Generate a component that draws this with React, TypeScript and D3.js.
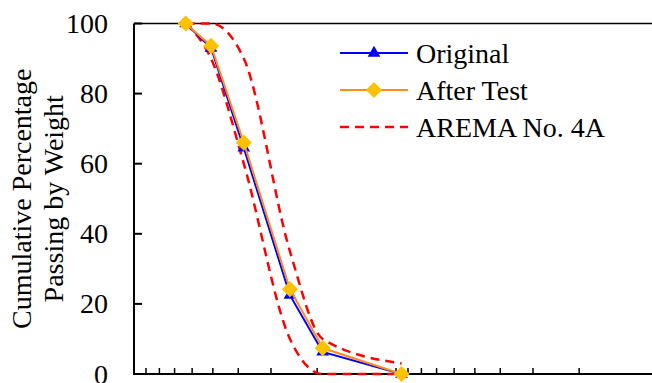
// 级配曲线
import React, { useRef, useEffect } from 'react';
import * as d3 from 'd3';

// 筛孔尺寸 (mm)
const sieveSizes: number[] = [63.5, 50.8, 38.1, 25.4, 19.05, 9.525];
const original: number[] = [100, 93, 64.5, 22.5, 6.3, 0];
const afterTest: number[] = [100, 93.6, 66, 24.2, 7.4, 0];
// AREMA No. 4A 上下限
const aremaUpper: number[] = [100, 100, 90, 35, 10, 3];
const aremaLower: number[] = [100, 90, 60, 10, 0, 0];
const yTicks: number[] = [0, 20, 40, 60, 80, 100];
const xMinorTicks: number[] = [90, 80, 70, 60, 50, 40, 30, 20, 10, 9, 8, 7, 6, 5, 4, 3, 2];
const legendLabels: string[] = ['Original', 'After Test', 'AREMA No. 4A'];

const width = 652;
const height = 383;
const marginLeft = 134;
const marginTop = 23.5;
const bottomY = 374;
const font = "'Liberation Serif', 'Times New Roman', Times, 'Noto Serif', 'DejaVu Serif', Tinos, 'Nimbus Roman', FreeSerif, serif";

const App: React.FC = () => {
  const svgRef = useRef<SVGSVGElement>(null);

  useEffect(() => {
    if (!svgRef.current) return;
    const svg = d3.select(svgRef.current);
    svg.selectAll('*').remove();

    // 反向对数坐标：左边 100 mm，右边 1 mm
    const x = d3.scaleLog().domain([100, 1]).range([marginLeft, 658]);
    const y = d3.scaleLinear().domain([0, 100]).range([bottomY, marginTop]);

    const pts = (vals: number[]) => sieveSizes.map((s, i) => [s, vals[i]] as [number, number]);

    // 边框 + 坐标轴
    svg.append('line')
      .attr('x1', marginLeft).attr('x2', width).attr('y1', marginTop).attr('y2', marginTop)
      .attr('stroke', '#000').attr('stroke-width', 1.5);

    svg.append('line')
      .attr('x1', marginLeft).attr('x2', width).attr('y1', bottomY).attr('y2', bottomY)
      .attr('stroke', '#000').attr('stroke-width', 2);

    svg.append('line')
      .attr('x1', marginLeft).attr('x2', marginLeft).attr('y1', marginTop).attr('y2', bottomY + 1)
      .attr('stroke', '#000').attr('stroke-width', 2);

    svg.selectAll('.xtick')
      .data(xMinorTicks)
      .join('line')
      .attr('class', 'xtick')
      .attr('x1', (d) => x(d)).attr('x2', (d) => x(d))
      .attr('y1', bottomY).attr('y2', bottomY - 6)
      .attr('stroke', '#000').attr('stroke-width', 1.5);

    svg.selectAll('.ytick')
      .data(yTicks)
      .join('line')
      .attr('class', 'ytick')
      .attr('x1', marginLeft).attr('x2', marginLeft + 8)
      .attr('y1', (d) => y(d)).attr('y2', (d) => y(d))
      .attr('stroke', '#000').attr('stroke-width', 2);

    svg.selectAll('.ylabel')
      .data(yTicks)
      .join('text')
      .attr('class', 'ylabel')
      .attr('x', 108)
      .attr('y', (d) => y(d) + 9.5)
      .attr('text-anchor', 'end')
      .text((d) => d);

    // y 轴标题
    const cy = (marginTop + bottomY) / 2;
    ['Cumulative Percentage', 'Passing by Weight'].forEach((t, i) => {
      svg.append('text')
        .attr('transform', `translate(${31 + i * 32},${cy}) rotate(-90)`)
        .attr('text-anchor', 'middle')
        .text(t);
    });

    // AREMA 范围 (平滑虚线)
    const smooth = d3.line<[number, number]>()
      .x((d) => x(d[0]))
      .y((d) => y(d[1]))
      .curve(d3.curveMonotoneX);

    [aremaUpper, aremaLower].forEach((vals) => {
      svg.append('path')
        .attr('d', smooth(pts(vals)))
        .attr('fill', 'none')
        .attr('stroke', '#FF0000')
        .attr('stroke-width', 2.5)
        .attr('stroke-dasharray', '9,6');
    });

    const straight = d3.line<[number, number]>()
      .x((d) => x(d[0]))
      .y((d) => y(d[1]));

    const tri = d3.symbol().type(d3.symbolTriangle).size(70);
    const dia = d3.symbol().type(d3.symbolSquare).size(130);

    // Original
    svg.append('path')
      .attr('d', straight(pts(original)))
      .attr('fill', 'none').attr('stroke', '#0000FF').attr('stroke-width', 2);
    svg.selectAll('.tri')
      .data(pts(original))
      .join('path')
      .attr('class', 'tri')
      .attr('transform', (d) => `translate(${x(d[0])},${y(d[1])})`)
      .attr('d', tri())
      .attr('fill', '#0000FF');

    // After Test
    svg.append('path')
      .attr('d', straight(pts(afterTest)))
      .attr('fill', 'none').attr('stroke', '#FF8C1A').attr('stroke-width', 2);
    svg.selectAll('.dia')
      .data(pts(afterTest))
      .join('path')
      .attr('class', 'dia')
      .attr('transform', (d) => `translate(${x(d[0])},${y(d[1])}) rotate(45)`)
      .attr('d', dia())
      .attr('fill', '#FFC000');

    // 图例
    const legendY = [53, 90, 127];
    legendLabels.forEach((t, i) => {
      const ly = legendY[i];
      const line = svg.append('line')
        .attr('x1', 340).attr('x2', 408).attr('y1', ly).attr('y2', ly)
        .attr('stroke-width', i === 2 ? 2.5 : 2)
        .attr('stroke', i === 0 ? '#0000FF' : i === 1 ? '#FF8C1A' : '#FF0000');
      if (i === 2) line.attr('stroke-dasharray', '9,6');
      if (i === 0) {
        svg.append('path').attr('transform', `translate(374,${ly})`).attr('d', tri()).attr('fill', '#0000FF');
      }
      if (i === 1) {
        svg.append('path').attr('transform', `translate(374,${ly}) rotate(45)`).attr('d', dia()).attr('fill', '#FFC000');
      }
      svg.append('text')
        .attr('x', 416)
        .attr('y', ly + 10)
        .text(t);
    });
  }, []);

  return (
    <svg
      ref={svgRef}
      width={width}
      height={height}
      fontFamily={font}
      fontSize={28}
      style={{ position: 'absolute', left: 0, top: 0, background: '#fff', fontFamily: font, fontSize: 28 }}
    />
  );
};

export default App;
